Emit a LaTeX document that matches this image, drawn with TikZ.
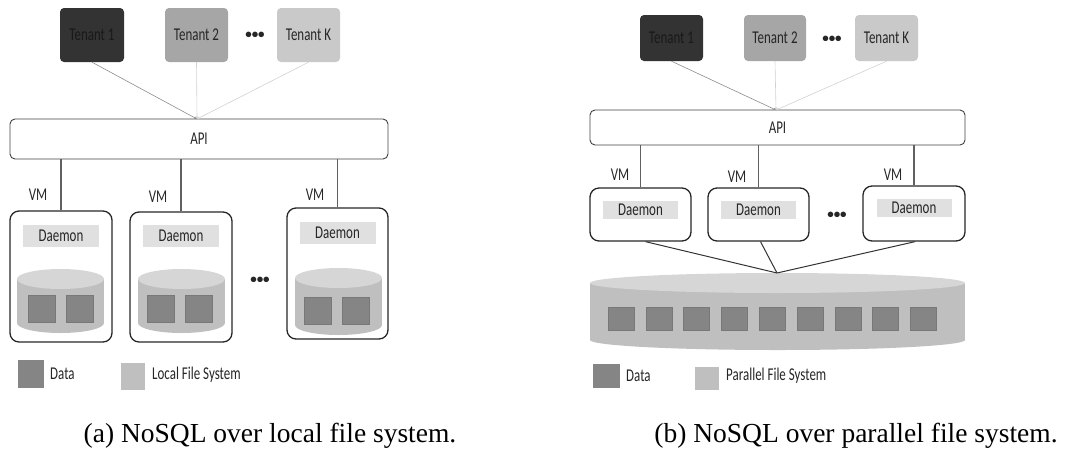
\documentclass[tikz,border=0pt]{standalone}
\usepackage{fontspec}
\setmainfont{Liberation Serif}
\newfontfamily\dfont[FakeStretch=0.72]{Carlito}
\newfontfamily\dotfont{Carlito}
\usetikzlibrary{arrows.meta}
\definecolor{tone}{HTML}{333333}
\definecolor{ttwo}{HTML}{A6A6A6}
\definecolor{tk}{HTML}{C9C9C9}
\definecolor{dlab}{HTML}{E0E0E0}
\definecolor{cbody}{HTML}{BFBFBF}
\definecolor{ctop}{HTML}{D6D6D6}
\definecolor{dsq}{HTML}{858585}
\definecolor{vline}{HTML}{606060}
\tikzset{
  dtext/.style={font=\dfont\fontsize{18}{20}\selectfont, text=black!85},
  tenantbox/.style={rounded corners=4pt, minimum width=#1, minimum height=54pt, inner sep=0pt, dtext},
  apibox/.style={draw=black!75, line width=0.9pt, rounded corners=5pt, inner sep=0pt, dtext},
  vmbox/.style={draw=black!85, line width=1.3pt, rounded corners=9pt, inner sep=0pt},
  daemonlab/.style={fill=dlab, inner sep=0pt, dtext},
  plain/.style={inner sep=0pt, dtext},
  dotsl/.style={inner sep=0pt, font=\dotfont\bfseries\fontsize{13}{14}\selectfont, text=black!85},
  tarrow/.style={-{Stealth[length=3pt,width=2.5pt]}, line width=0.6pt},
  vmline/.style={draw=vline, line width=1.1pt},
  datasq/.style={fill=dsq, draw=dsq!90!black, line width=0.3pt, inner sep=0pt},
  capt/.style={inner sep=0pt, font=\fontsize{27.5}{30}\selectfont}
}
\newcommand\mycyl[5]{% x1 x2 ytopcenter ybotcenter ry
  \fill[cbody] ({(#1+#2)/2},#4) ellipse ({(#2-#1)/2} and #5);
  \fill[cbody] (#1,#3) rectangle (#2,#4);
  \fill[ctop] ({(#1+#2)/2},#3) ellipse ({(#2-#1)/2} and #5);
}
\begin{document}
\begin{tikzpicture}[x=1pt,y=-1pt]
\useasboundingbox (0,0) rectangle (1073,459);
% ================= LEFT PANEL =================
\node[tenantbox=64pt, fill=tone, text=black!90] (lt1) at (92,35) {Tenant 1};
\node[tenantbox=63pt, fill=ttwo] (lt2) at (196.5,35) {Tenant 2};
\node[dotsl] (ldots1) at (255,35) {\textbullet\textbullet\textbullet};
\node[tenantbox=63pt, fill=tk] (ltk) at (308.5,35) {Tenant K};
\node[apibox, minimum width=378pt, minimum height=40pt] (lapi) at (199,139) {API};
\coordinate (lapin) at (197,119);
\draw[tarrow, draw=black!45] (lt1.south) -- (lapin);
\draw[tarrow, draw=black!18] (lt2.south) -- (lapin);
\draw[tarrow, draw=black!18] (ltk.south) -- (lapin);
% VM boxes
\node[vmbox, minimum width=102pt, minimum height=131pt] (lb1) at (61,276.5) {};
\node[vmbox, minimum width=102pt, minimum height=130pt] (lb2) at (181,277) {};
\node[vmbox, minimum width=101pt, minimum height=131pt] (lb3) at (337.5,273.5) {};
\draw[vmline] (lapi.south -| lb1.north) -- (lb1.north);
\draw[vmline] (lapi.south -| lb2.north) -- (lb2.north);
\draw[vmline] (lapi.south -| lb3.north) -- (lb3.north);
\node[plain] (lvm1) at (38,195) {VM};
\node[plain] (lvm2) at (158,197) {VM};
\node[plain] (lvm3) at (315,195) {VM};
\node[daemonlab, minimum width=76pt, minimum height=22pt] (ld1) at (61,236) {Daemon};
\node[daemonlab, minimum width=76pt, minimum height=22pt] (ld2) at (181,236) {Daemon};
\node[daemonlab, minimum width=76pt, minimum height=22pt] (ld3) at (337.5,233) {Daemon};
% cylinders
\mycyl{17}{104}{279}{323}{10}
\mycyl{138}{225}{279}{323}{10}
\mycyl{295}{382}{278}{325}{10}
\node[datasq, minimum width=27pt, minimum height=27pt] (lsq1) at (41.5,308.5) {};
\node[datasq, minimum width=27pt, minimum height=27pt] (lsq2) at (79.5,308.5) {};
\node[datasq, minimum width=27pt, minimum height=27pt] (lsq3) at (160.5,308.5) {};
\node[datasq, minimum width=27pt, minimum height=27pt] (lsq4) at (198.5,308.5) {};
\node[datasq, minimum width=27pt, minimum height=27pt] (lsq5) at (317.5,310.5) {};
\node[datasq, minimum width=27pt, minimum height=27pt] (lsq6) at (356,310.5) {};
\node[dotsl] (ldots2) at (260,280) {\textbullet\textbullet\textbullet};
% legend
\node[fill=dsq, minimum width=26pt, minimum height=28pt, inner sep=0pt] (lleg1) at (31,374) {};
\node[plain, anchor=west] (llegt1) at (50,374) {Data};
\node[fill=cbody, minimum width=24pt, minimum height=27pt, inner sep=0pt] (lleg2) at (133,376.5) {};
\node[plain, anchor=west] (llegt2) at (152,375) {Local File System};
\node[capt] (lcap) at (270,436) {(a) NoSQL over local file system.};
% ================= RIGHT PANEL =================
\node[tenantbox=63pt, fill=tone, text=black!90, minimum height=46pt] (rt1) at (671.5,38) {Tenant 1};
\node[tenantbox=62pt, fill=ttwo, minimum height=46pt] (rt2) at (775,38) {Tenant 2};
\node[dotsl] (rdots1) at (832,39) {\textbullet\textbullet\textbullet};
\node[tenantbox=63pt, fill=tk, minimum height=46pt] (rtk) at (886.5,38) {Tenant K};
\node[apibox, minimum width=375pt, minimum height=35pt] (rapi) at (777.5,127.5) {API};
\coordinate (rapin) at (776,110);
\draw[tarrow, draw=black!45] (rt1.south) -- (rapin);
\draw[tarrow, draw=black!18] (rt2.south) -- (rapin);
\draw[tarrow, draw=black!18] (rtk.south) -- (rapin);
\node[vmbox, minimum width=101pt, minimum height=53pt] (rb1) at (640.5,214.5) {};
\node[vmbox, minimum width=101pt, minimum height=53pt] (rb2) at (758.5,214.5) {};
\node[vmbox, minimum width=102pt, minimum height=55pt] (rb3) at (914,213.5) {};
\draw[vmline] (rapi.south -| rb1.north) -- (rb1.north);
\draw[vmline] (rapi.south -| rb2.north) -- (rb2.north);
\draw[vmline] (rapi.south -| rb3.north) -- (rb3.north);
\node[plain] (rvm1) at (620,175) {VM};
\node[plain] (rvm2) at (737,177) {VM};
\node[plain] (rvm3) at (893,175) {VM};
\node[daemonlab, minimum width=75pt, minimum height=18pt] (rd1) at (640.5,210) {Daemon};
\node[daemonlab, minimum width=75pt, minimum height=18pt] (rd2) at (758.5,210) {Daemon};
\node[daemonlab, minimum width=75pt, minimum height=18pt] (rd3) at (914,208) {Daemon};
\node[dotsl] (rdots2) at (837,215) {\textbullet\textbullet\textbullet};
% parallel FS cylinder
\mycyl{590}{965}{283}{340}{10}
\coordinate (rcyltop) at (777,273);
\draw[black!80, line width=1pt] (rb1.south) ++(5,0) -- (rcyltop);
\draw[black!80, line width=1pt] (rb2.south) ++(2,0) -- (rcyltop);
\draw[black!80, line width=1pt] (rb3.south) ++(1,0) -- (rcyltop);
\foreach \i in {0,...,8} {
  \node[datasq, minimum width=26pt, minimum height=23pt] (rsq\i) at ({621+\i*37.8},318.5) {};
}
% legend
\node[fill=dsq, minimum width=27pt, minimum height=24pt, inner sep=0pt] (rleg1) at (606.5,376) {};
\node[plain, anchor=west] (rlegt1) at (626,376) {Data};
\node[fill=cbody, minimum width=24pt, minimum height=23pt, inner sep=0pt] (rleg2) at (707,378.5) {};
\node[plain, anchor=west] (rlegt2) at (726,376) {Parallel File System};
\node[capt] (rcap) at (856,436) {(b) NoSQL over parallel file system.};
\end{tikzpicture}
\end{document}
